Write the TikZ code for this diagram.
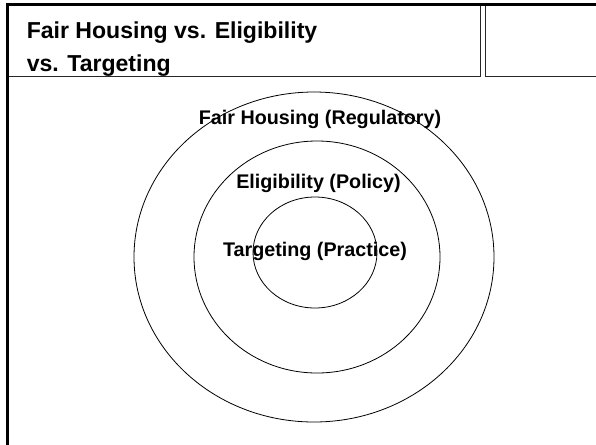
\documentclass[tikz,border=0pt]{standalone}
\usepackage{fontspec}
\setmainfont{Liberation Sans}
\usetikzlibrary{shapes.geometric}

\tikzset{
  ring/.style={draw, ellipse, line width=0.6pt, inner sep=0pt},
  ringtext/.style={font=\bfseries\fontsize{14.8}{17}\selectfont, inner sep=0pt, anchor=base},
  headtext/.style={font=\bfseries\fontsize{17.3}{20}\selectfont, inner sep=0pt, anchor=base west},
  headbox/.style={draw=black!85, line width=0.75pt},
}

\begin{document}
\begin{tikzpicture}[x=0.75pt, y=-0.75pt]
  \useasboundingbox (0,0) rectangle (596,444);
  \clip (0,0) rectangle (596,444);

  \draw[headbox] (7.5,4.5) rectangle (480,76);
  \draw[headbox] (485,4.5) rectangle (600,76);
  \draw[line width=2.25pt] (7.5,4.5) rectangle (597,452);

  \node[headtext] (head1) at (26.5,38) {Fair Housing vs. Eligibility};
  \node[headtext] (head2) at (26.5,71) {vs. Targeting};

  \node[ring, minimum width=270pt, minimum height=247.5pt] (outer) at (314,257) {};
  \node[ring, minimum width=184.5pt, minimum height=174pt] (middle) at (317,257) {};
  \node[ring, minimum width=93pt, minimum height=83.25pt] (inner) at (315,252.5) {};

  \node[ringtext] (fair) at (320,124) {Fair Housing (Regulatory)};
  \node[ringtext] (elig) at (318.5,188) {Eligibility (Policy)};
  \node[ringtext] (target) at (315,256) {Targeting (Practice)};

\end{tikzpicture}
\end{document}
